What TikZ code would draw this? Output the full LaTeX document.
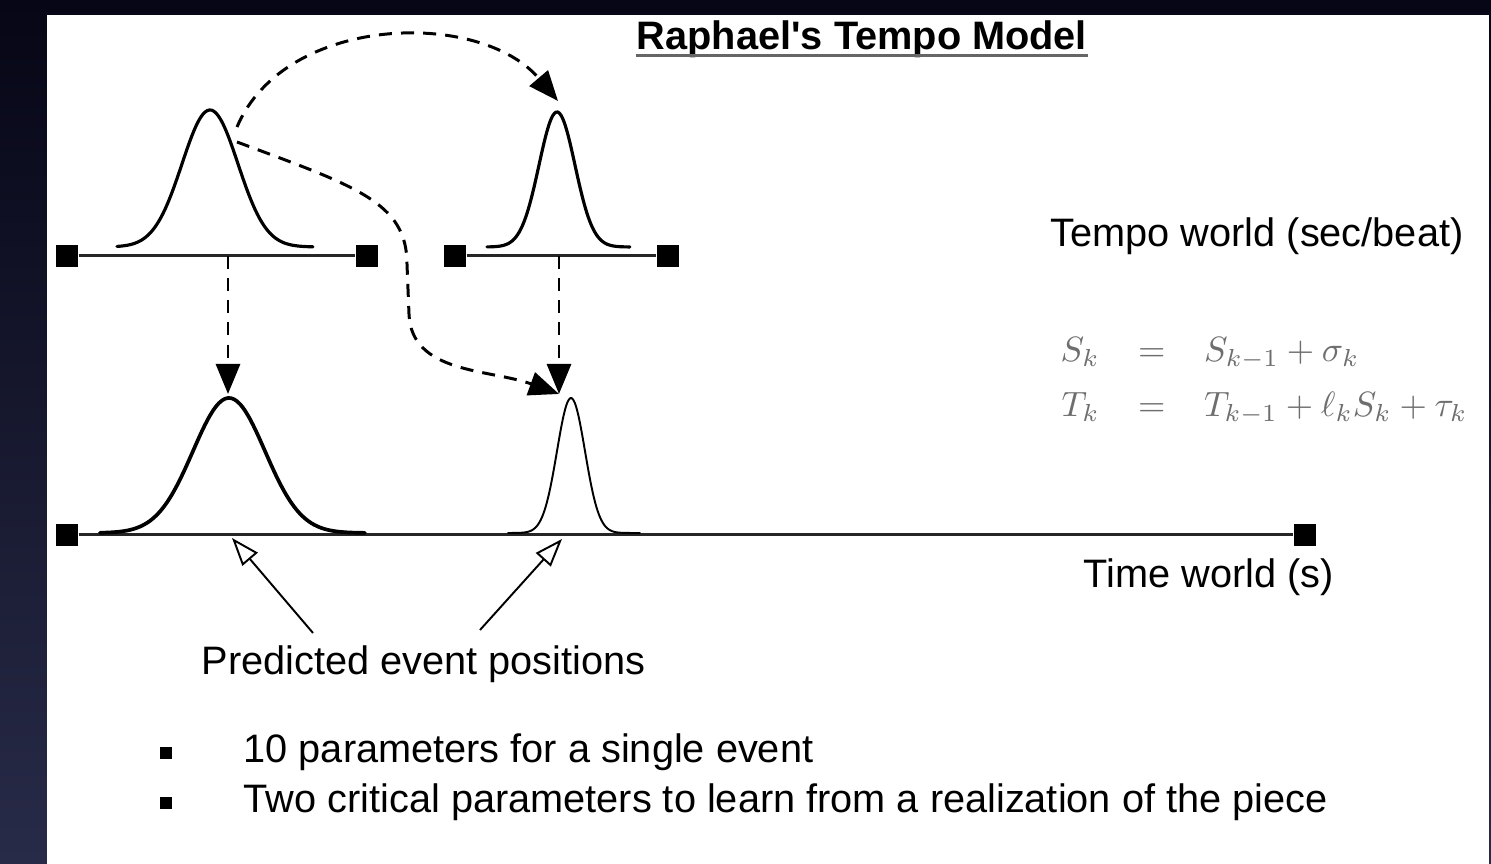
\documentclass[tikz,border=0pt]{standalone}
\usepackage{fontspec}
\setmainfont{Liberation Sans}
\usetikzlibrary{arrows.meta}

\begin{document}
\begin{tikzpicture}[font=\fontsize{11.3}{13}\selectfont,
  axisline/.style={line width=0.85pt,black!85},
  endbox/.style={fill=black,minimum size=0.22cm,inner sep=0pt},
  bell/.style={line cap=round},
  jump/.style={line width=0.85pt,dash pattern=on 3.7pt off 2.6pt,
               -{Triangle[length=0.3cm,width=0.24cm]}},
  pointer/.style={line width=0.55pt,-{Triangle[open,length=0.28cm,width=0.2cm]}},
  bulletbox/.style={fill=black,minimum size=0.115cm,inner sep=0pt}]

% Slide: 14.91 x 8.64 units, one slide pixel = 0.01 unit.
%   x = px/100,   y = (864 - py)/100

% ── Slide background ─────────────────────────────────────────────────────────
\definecolor{Cdarktop}{RGB}{6,6,22}
\definecolor{Cdarkbot}{RGB}{40,43,72}
\definecolor{Ceqn}{RGB}{110,110,110}

\shade[top color=Cdarktop,bottom color=Cdarkbot] (0,0) rectangle (14.91,8.64);
\useasboundingbox (0,0) rectangle (14.91,8.64);
\fill[white] (0.47,0) rectangle (14.89,8.49);

% ── Title ────────────────────────────────────────────────────────────────────
\node[anchor=base,inner sep=0pt] (title) at (8.62,8.14)
  {\textbf{Raphael\textquotesingle s Tempo Model}};
\draw[black!60,line width=0.9pt]
  ([yshift=-1.6pt]title.base west) -- ([yshift=-1.6pt]title.base east);

% ── Tempo world: two short axes ──────────────────────────────────────────────
\node[endbox] (tl-a) at (0.67,6.08) {};
\node[endbox] (tl-b) at (3.67,6.08) {};
\node[endbox] (tr-a) at (4.55,6.08) {};
\node[endbox] (tr-b) at (6.68,6.08) {};
\draw[axisline] (tl-a) -- (tl-b);
\draw[axisline] (tr-a) -- (tr-b);

% ── Time world: long axis ────────────────────────────────────────────────────
\node[endbox] (bt-a) at (0.67,3.29) {};
\node[endbox] (bt-b) at (13.05,3.29) {};
\draw[axisline] (bt-a) -- (bt-b);

% ── Bell curves (centre / base / height / sigma / domain / width) ───────────
\foreach \cx/\by/\ht/\sg/\lo/\hi/\lw in {
    2.10/6.17/1.37/0.28/-0.93/1.03/0.9pt,
    5.57/6.17/1.35/0.18/-0.70/0.73/0.9pt,
    2.29/3.31/1.35/0.36/-1.29/1.36/1.05pt,
    5.71/3.31/1.35/0.14/-0.63/0.69/0.55pt}
  \draw[bell,line width=\lw] plot[domain=\lo:\hi,samples=90,smooth]
    ({\cx+\x},{\by+\ht*exp(-0.5*(\x/\sg)*(\x/\sg))});

% ── Connector end points ─────────────────────────────────────────────────────
\coordinate (tl-out-a) at (2.37,7.37);
\coordinate (tl-out-b) at (2.37,7.22);
\coordinate (tr-top)   at (5.58,7.63);
\coordinate (tl-tick)  at (2.28,6.08);
\coordinate (tr-tick)  at (5.59,6.08);
\coordinate (bl-top)   at (2.28,4.70);
\coordinate (br-top)   at (5.59,4.70);

% ── Dashed propagation arrows ────────────────────────────────────────────────
\draw[jump] (tl-out-a) .. controls (2.85,8.5) and (4.8,8.55) .. (tr-top);
\draw[jump] (tl-out-b) .. controls (3.55,6.78) and (4.07,6.62) .. (4.07,6.0)
  -- (4.09,5.5) .. controls (4.11,4.9) and (4.9,4.95) .. (br-top);
\draw[jump] (tl-tick) -- (bl-top);
\draw[jump] (tr-tick) -- (br-top);

% ── Labels on the right ──────────────────────────────────────────────────────
\node[anchor=base west,inner sep=0pt] (tempo) at (10.50,6.17)
  {Tempo world (sec/beat)};
\node[anchor=west,inner sep=0pt,text=Ceqn,font=\fontsize{10.1}{12}\selectfont]
  (eqn) at (10.60,4.86)
  {$\renewcommand{\arraystretch}{1.3}
   \begin{array}{@{}r@{\hspace{11pt}}c@{\hspace{11pt}}l@{}}
     S_k & = & S_{k-1}+\sigma_k\\
     T_k & = & T_{k-1}+\ell_k S_k+\tau_k
   \end{array}$};
\node[anchor=base west,inner sep=0pt] (time) at (10.83,2.76)
  {Time world (s)};

% ── Predicted event positions ────────────────────────────────────────────────
\node[anchor=base west,inner sep=0pt] (pred) at (2.01,1.89)
  {Predicted event positions};
\coordinate (pred-a) at (3.13,2.31);
\coordinate (pred-b) at (4.80,2.34);
\coordinate (bl-mark) at (2.32,3.26);
\coordinate (br-mark) at (5.62,3.25);
\draw[pointer] (pred-a) -- (bl-mark);
\draw[pointer] (pred-b) -- (br-mark);

% ── Bullets ──────────────────────────────────────────────────────────────────
\foreach \yb/\txt [count=\i] in {
    1.01/10 parameters for a single event,
    0.51/Two critical parameters to learn from a realization of the piece}
  {
    \node[bulletbox] (dot\i) at (1.66,\yb+0.1) {};
    \node[anchor=base west,inner sep=0pt] (item\i) at (2.43,\yb) {\txt};
  }

\end{tikzpicture}
\end{document}
